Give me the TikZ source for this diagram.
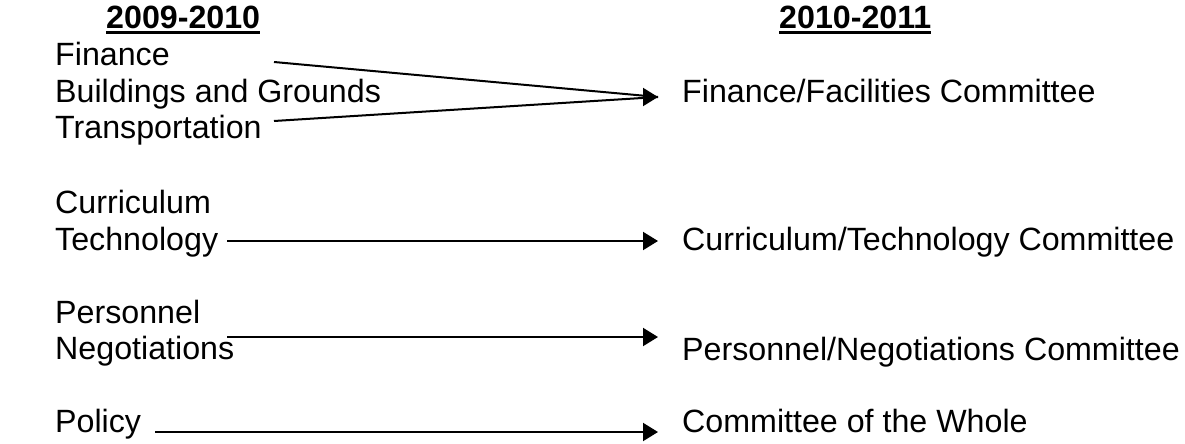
\documentclass[tikz,border=0pt]{standalone}
\usepackage{fontspec}
\setmainfont{Liberation Sans}
\usetikzlibrary{arrows.meta}
\newcommand\yearhead[1]{\setbox0\hbox{\bfseries #1}\rlap{\rule[-5.5pt]{\wd0}{3.2pt}}\box0}

\begin{document}
\begin{tikzpicture}[x=1pt,y=-1pt,
    item/.style={anchor=base west,inner sep=0pt,font=\fontsize{32.2}{36}\selectfont},
    link/.style={line width=2pt},
    tipped/.style={link,-{Triangle[length=15pt,width=18pt]}}]
        \useasboundingbox (0,0) rectangle (1185,444);
        % headings
        \node[item] (old) at (106,29) {\yearhead{2009-2010}};
        \node[item] (new) at (779,29) {\yearhead{2010-2011}};
        % 2009-2010 committees
        \node[item] (fin) at (55,66) {Finance};
        \node[item] (bld) at (55,102) {Buildings and Grounds};
        \node[item] (trn) at (55,138) {Transportation};
        \node[item] (cur) at (55,213) {Curriculum};
        \node[item] (tec) at (55,250) {Technology};
        \node[item] (per) at (55,323) {Personnel};
        \node[item] (neg) at (55,359) {Negotiations};
        \node[item] (pol) at (55,432) {Policy};
        % 2010-2011 committees
        \node[item] (ffc) at (682,102) {Finance/Facilities Committee};
        \node[item] (ctc) at (682,250) {Curriculum/Technology Committee};
        \node[item] (pnc) at (682,360) {Personnel/Negotiations Committee};
        \node[item] (cow) at (682,432) {Committee of the Whole};
        % line ends
        \coordinate (finS) at (274,62);
        \coordinate (trnS) at (274,121);
        \coordinate (tecS) at (227,241);
        \coordinate (negS) at (227,337);
        \coordinate (polS) at (155,432);
        \coordinate (ffBase) at (643,97);
        \coordinate (ffTip) at (658,97);
        \coordinate (ctTip) at (658,241);
        \coordinate (pnTip) at (658,337);
        \coordinate (cwTip) at (658,432);
        % arrows
        \draw[link] (finS)--(ffTip);
        \draw[link] (trnS)--(ffTip);
        \draw[tipped] (ffBase)--(ffTip);
        \draw[tipped] (tecS)--(ctTip);
        \draw[tipped] (negS)--(pnTip);
        \draw[tipped] (polS)--(cwTip);
      \end{tikzpicture}
\end{document}
